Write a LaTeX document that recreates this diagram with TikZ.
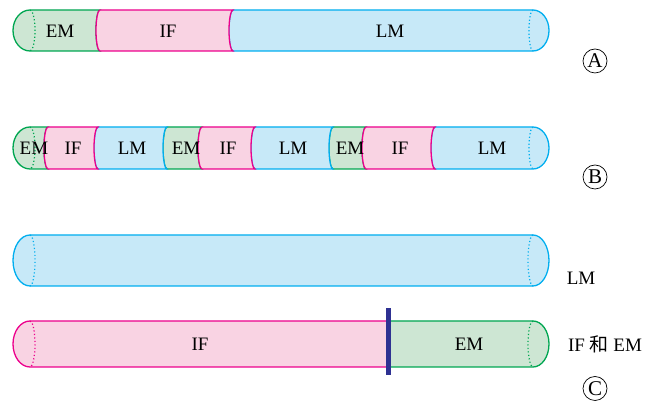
\documentclass[tikz,border=0pt]{standalone}
\usepackage{fontspec}
\setmainfont{Liberation Serif}
\newfontfamily\cjk{Noto Sans CJK SC}

\definecolor{emline}{RGB}{0,166,81}
\definecolor{emfill}{RGB}{205,230,211}
\definecolor{ifline}{RGB}{236,0,140}
\definecolor{iffill}{RGB}{249,211,227}
\definecolor{lmline}{RGB}{0,174,239}
\definecolor{lmfill}{RGB}{199,233,248}
\definecolor{barcol}{RGB}{46,49,146}

\tikzset{
    em/.style={draw=emline, fill=emfill, line width=1.3pt},
    if/.style={draw=ifline, fill=iffill, line width=1.3pt},
    lm/.style={draw=lmline, fill=lmfill, line width=1.3pt},
    backline/.style={fill=none, line width=1.2pt, dash pattern=on 1.2pt off 2.3pt},
    lbl/.style={anchor=base, inner sep=0pt, font=\fontsize{19}{21}\selectfont},
    circled/.style={draw, circle, line width=0.7pt, minimum size=24pt, inner sep=0pt,
        font=\fontsize{21}{21}\selectfont}
}

% left end piece: right end, bottom, top, style
\newcommand{\leftpiece}[4]{%
    \draw[#4] (30,#3) arc[start angle=90, end angle=270, x radius=17, y radius={(#3-#2)/2}]
        -- (#1,#2) arc[start angle=270, end angle=90, x radius=4, y radius={(#3-#2)/2}] -- cycle;
    \draw[#4, backline] (30,#3) arc[start angle=90, end angle=-90, x radius=5, y radius={(#3-#2)/2}];
}
% right end piece: left end, bottom, top, style
\newcommand{\rightpiece}[4]{%
    \draw[#4] (#1,#3) arc[start angle=90, end angle=270, x radius=4, y radius={(#3-#2)/2}]
        -- (533,#2) arc[start angle=-90, end angle=90, x radius=16, y radius={(#3-#2)/2}] -- cycle;
    \draw[#4, backline] (533,#3) arc[start angle=90, end angle=270, x radius=4, y radius={(#3-#2)/2}];
}
% middle piece: left end, right end, bottom, top, style
\newcommand{\midpiece}[5]{%
    \draw[#5] (#1,#4) arc[start angle=90, end angle=270, x radius=4, y radius={(#4-#3)/2}]
        -- (#2,#3) arc[start angle=270, end angle=90, x radius=4, y radius={(#4-#3)/2}] -- cycle;
}

\begin{document}
\begin{tikzpicture}[x=1pt, y=1pt]
    \useasboundingbox (0,0) rectangle (656,403);

    % A
    \leftpiece{100}{352}{393}{em}
    \rightpiece{233}{352}{393}{lm}
    \midpiece{100}{233}{352}{393}{if}
    \node[lbl] (emA) at (60,365) {EM};
    \node[lbl] (ifA) at (168,365) {IF};
    \node[lbl] (lmA) at (390,365) {LM};
    \node[circled] (markA) at (595,342) {A};

    % B
    \leftpiece{48}{234}{276}{em}
    \midpiece{167}{202}{234}{276}{em}
    \midpiece{333}{366}{234}{276}{em}
    \midpiece{98}{167}{234}{276}{lm}
    \midpiece{255}{333}{234}{276}{lm}
    \rightpiece{435}{234}{276}{lm}
    \midpiece{48}{98}{234}{276}{if}
    \midpiece{202}{255}{234}{276}{if}
    \midpiece{366}{435}{234}{276}{if}
    \node[lbl] (emB1) at (34,248) {EM};
    \node[lbl] (ifB1) at (73,248) {IF};
    \node[lbl] (lmB1) at (132,248) {LM};
    \node[lbl] (emB2) at (186,248) {EM};
    \node[lbl] (ifB2) at (228,248) {IF};
    \node[lbl] (lmB2) at (293,248) {LM};
    \node[lbl] (emB3) at (350,248) {EM};
    \node[lbl] (ifB3) at (400,248) {IF};
    \node[lbl] (lmB3) at (492,248) {LM};
    \node[circled] (markB) at (595,226) {B};

    % C
    \draw[lm] (30,168) arc[start angle=90, end angle=270, x radius=17, y radius=25.5]
        -- (533,117) arc[start angle=-90, end angle=90, x radius=16, y radius=25.5] -- cycle;
    \draw[lm, backline] (30,168) arc[start angle=90, end angle=-90, x radius=5, y radius=25.5];
    \draw[lm, backline] (533,168) arc[start angle=90, end angle=270, x radius=5, y radius=25.5];
    \node[lbl] (lmC) at (581,118) {LM};

    \draw[if] (30,82) arc[start angle=90, end angle=270, x radius=17, y radius=23]
        -- (388,36) -- (388,82) -- cycle;
    \draw[if, backline] (30,82) arc[start angle=90, end angle=-90, x radius=5, y radius=23];
    \draw[em] (388,36) -- (533,36) arc[start angle=-90, end angle=90, x radius=16, y radius=23]
        -- (388,82) -- cycle;
    \draw[em, backline] (533,82) arc[start angle=90, end angle=270, x radius=5, y radius=23];
    \draw[barcol, line width=5pt] (388,28) -- (388,95);
    \node[lbl] (ifC) at (200,52) {IF};
    \node[lbl] (emC) at (469,52) {EM};
    \node[lbl] (bothC) at (605,51) {IF {\cjk 和} EM};
    \node[circled] (markC) at (595,14.5) {C};
\end{tikzpicture}
\end{document}
